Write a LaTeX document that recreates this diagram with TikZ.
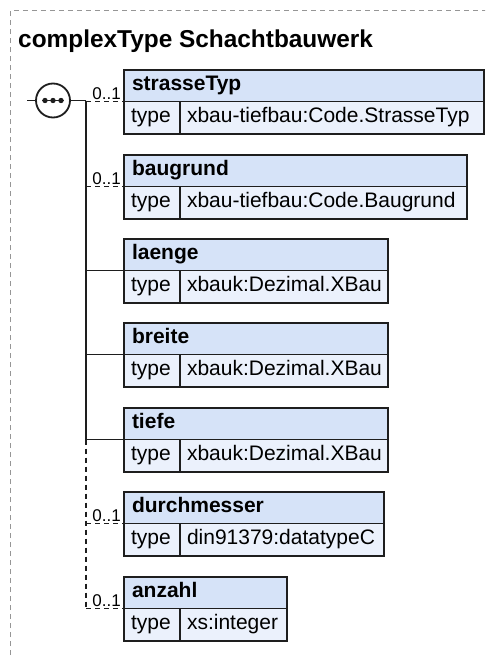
\documentclass[tikz,border=0pt]{standalone}
\usepackage{fontspec}
\setmainfont{Liberation Sans}
\definecolor{hdrC}{RGB}{214,227,248}
\definecolor{bodyC}{RGB}{235,241,252}
\definecolor{lineC}{RGB}{30,30,30}
\definecolor{frameC}{RGB}{150,150,150}
\newcommand{\xsdelem}[6]{% id, top y, header width, header text, value text width, value
  \node[hdr, text width=#3pt] (h#1) at (124,#2) {#4};
  \node[typ] (t#1) at (h#1.south west) {type};
  \node[val, text width=#5pt] (v#1) at (t#1.north east) {#6};
}
\begin{document}
\begin{tikzpicture}[x=1pt,y=-1pt,
  frame/.style={draw=frameC, line width=1pt, dash pattern=on 5pt off 4pt},
  boxbase/.style={draw=lineC, line width=1.9pt, anchor=north west, outer sep=0pt,
    inner ysep=0pt, text height=15pt, text depth=5pt, align=left,
    execute at begin node={\hyphenpenalty=10000 \exhyphenpenalty=10000}},
  hdr/.style={boxbase, fill=hdrC, inner xsep=8pt, minimum height=31.5pt,
    font=\fontsize{21}{25}\selectfont\bfseries},
  typ/.style={boxbase, fill=bodyC, inner xsep=7pt, minimum height=32.5pt,
    text width=42pt, font=\fontsize{21}{25}\selectfont},
  val/.style={boxbase, fill=bodyC, inner xsep=7pt, minimum height=32.5pt,
    font=\fontsize{21}{25}\selectfont},
  conn/.style={draw=lineC, line width=1.8pt},
  opt/.style={conn, dash pattern=on 5pt off 4pt},
  mult/.style={anchor=base east, inner sep=0pt, font=\fontsize{17}{20}\selectfont},
  title/.style={anchor=base west, inner sep=0pt, font=\fontsize{24.4}{29}\selectfont\bfseries}
]
\useasboundingbox (0,0) rectangle (485,659);
\clip (0,0) rectangle (485,659);
\fill[white] (0,0) rectangle (485,659);

% outer frame
\draw[frame] (10.5,700) -- (10.5,10.5) -- (520,10.5);
\node[title] (ttl) at (18,47) {complexType Schachtbauwerk};

% sequence compositor
\coordinate (in) at (27,100.5);
\coordinate (ttop) at (86,100.5);
\node[circle, draw=lineC, line width=1.8pt, fill=white, minimum size=34pt, inner sep=0pt] (seq) at (53,100.5) {};
\draw[conn] (in) -- (seq.west);
\draw[conn] (seq.east) -- (ttop);
\draw[conn, line width=1.6pt] ([xshift=-11pt]seq.center) -- ([xshift=11pt]seq.center);
\foreach \dx in {-8,0,8} \fill[lineC] ([xshift=\dx pt]seq.center) circle (2.7pt);

% elements
\xsdelem{1}{70}{344}{strasseTyp}{290}{xbau-tiefbau:Code.StrasseTyp}
\xsdelem{2}{155}{327}{baugrund}{273}{xbau-tiefbau:Code.Baugrund}
\xsdelem{3}{239}{248}{laenge}{194}{xbauk:Dezimal.XBau}
\xsdelem{4}{323}{248}{breite}{194}{xbauk:Dezimal.XBau}
\xsdelem{5}{408}{248}{tiefe}{194}{xbauk:Dezimal.XBau}
\xsdelem{6}{492}{244}{durchmesser}{190}{din91379:datatypeC}
\xsdelem{7}{577}{147}{anzahl}{93}{xs:integer}

% trunk
\draw[conn] (ttop) -- (ttop |- h5.south west);
\draw[opt] (ttop |- h5.south west) -- (ttop |- h7.south west);

% connectors
\draw[opt] (ttop |- h1.south west) -- (h1.south west);
\draw[opt] (ttop |- h2.south west) -- (h2.south west);
\draw[conn] (ttop |- h3.south west) -- (h3.south west);
\draw[conn] (ttop |- h4.south west) -- (h4.south west);
\draw[conn] (ttop |- h5.south west) -- (h5.south west);
\draw[opt] (ttop |- h6.south west) -- (h6.south west);
\draw[opt] (ttop |- h7.south west) -- (h7.south west);

% multiplicities
\node[mult] (m1) at ([xshift=-3pt,yshift=2pt]h1.south west) {0..1};
\node[mult] (m2) at ([xshift=-3pt,yshift=2pt]h2.south west) {0..1};
\node[mult] (m6) at ([xshift=-3pt,yshift=2pt]h6.south west) {0..1};
\node[mult] (m7) at ([xshift=-3pt,yshift=2pt]h7.south west) {0..1};
\end{tikzpicture}
\end{document}
